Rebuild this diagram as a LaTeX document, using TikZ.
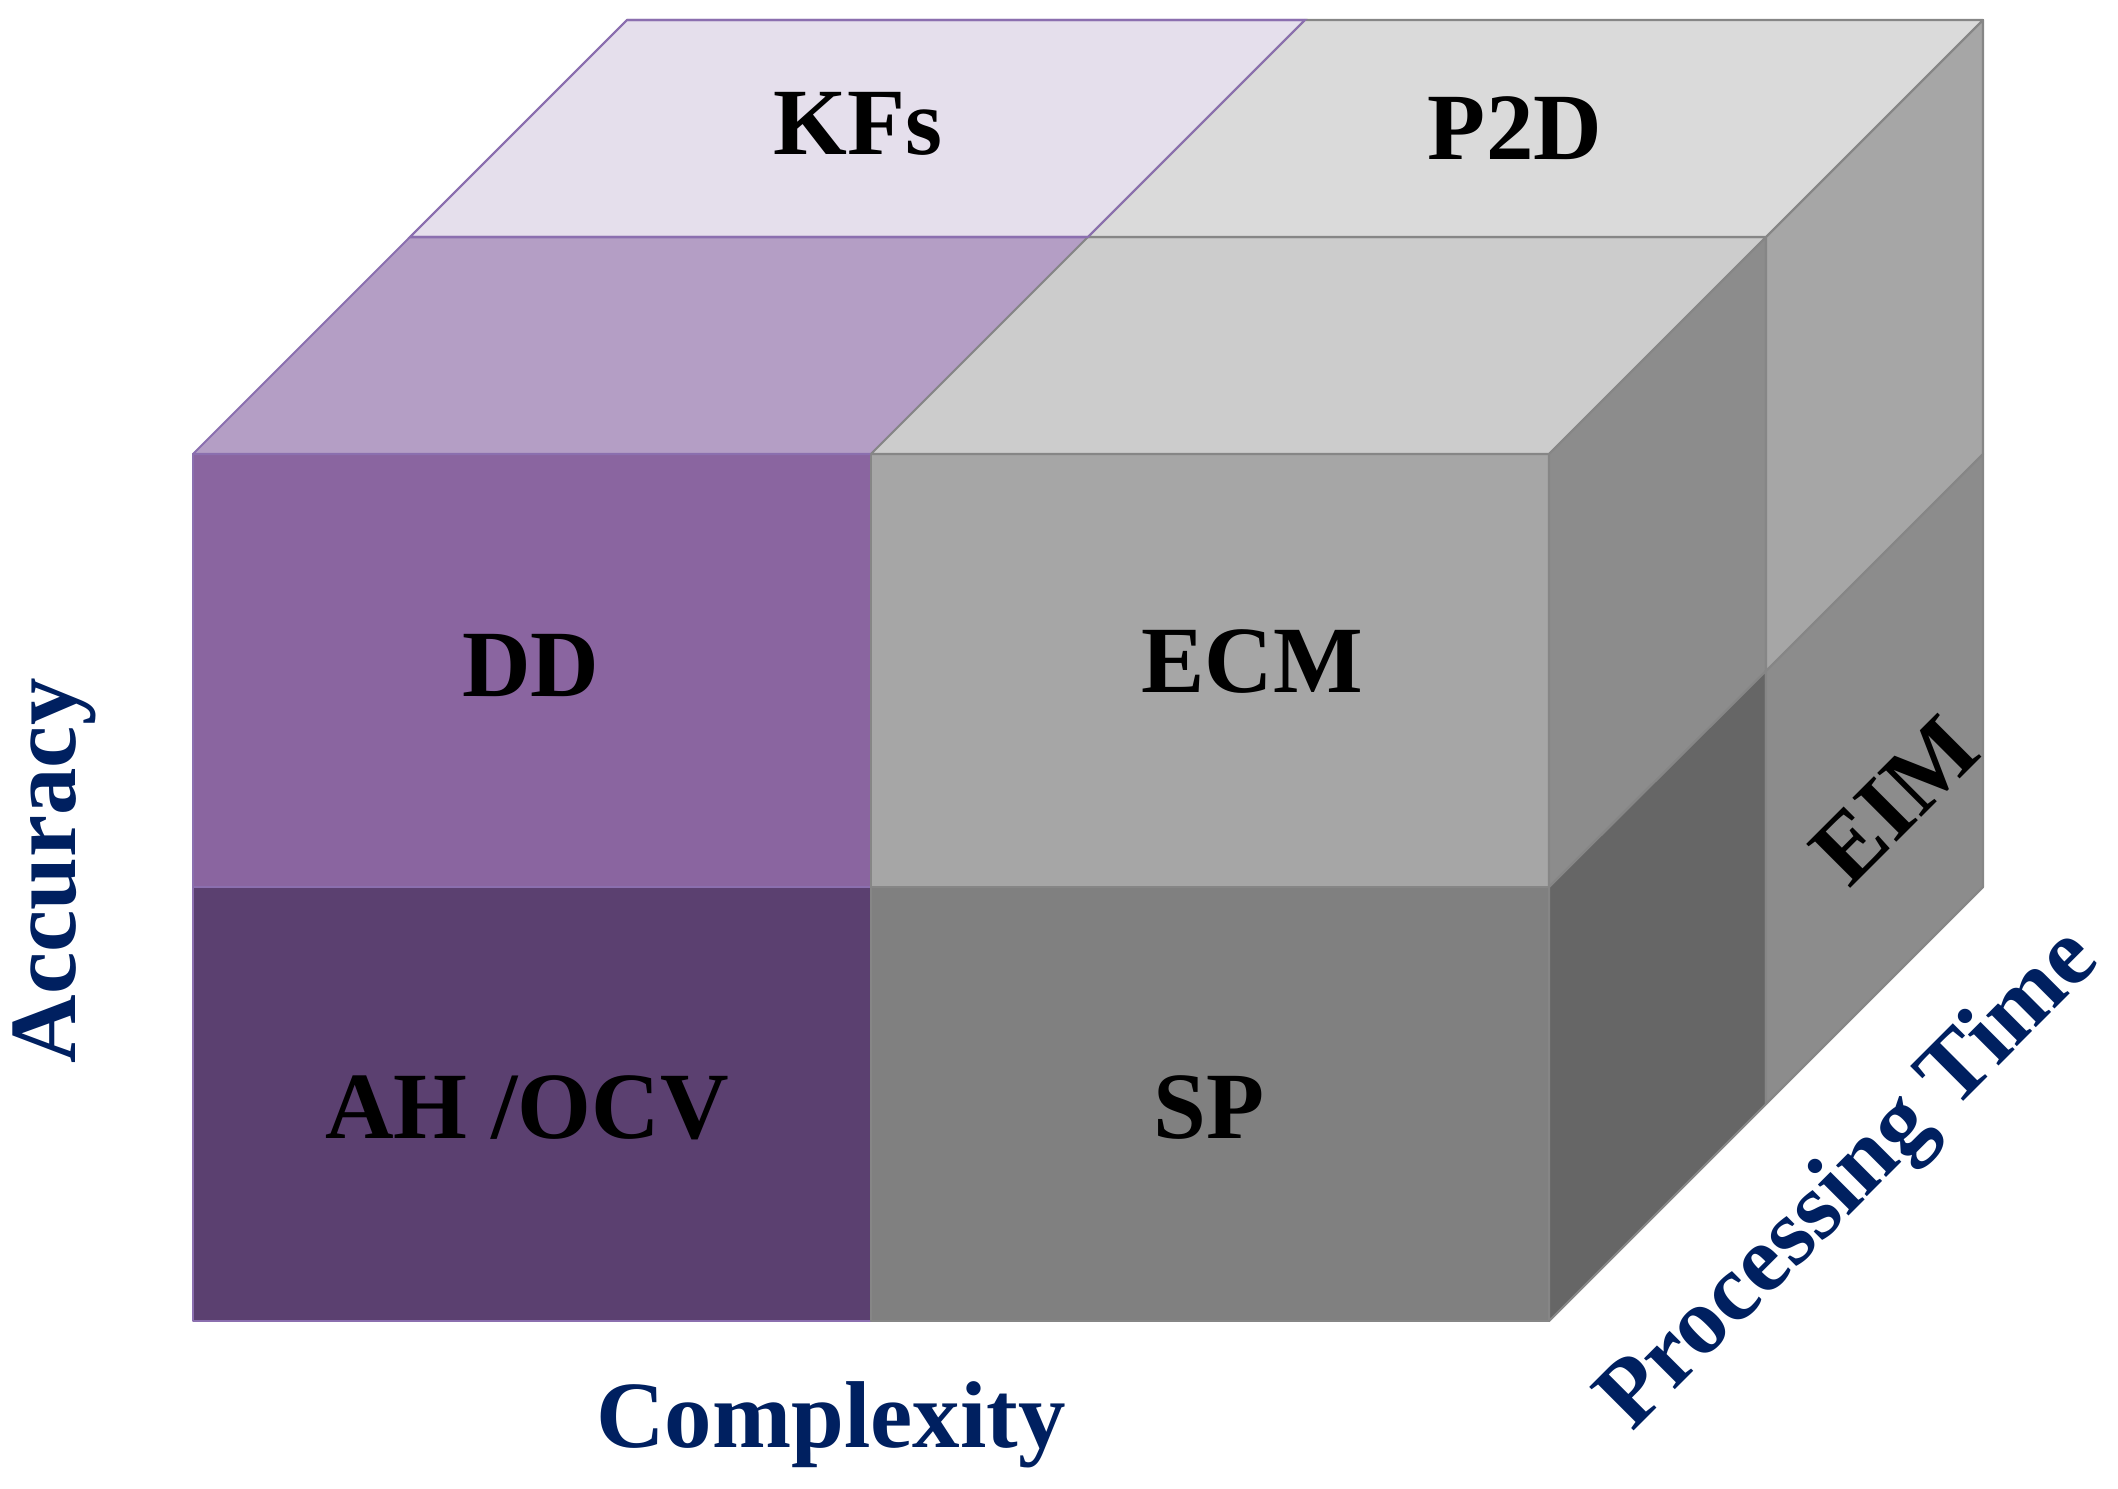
\documentclass[tikz,border=0pt]{standalone}
\usepackage{fontspec}
\setmainfont{Liberation Serif}
\definecolor{pDD}{HTML}{8A65A0}
\definecolor{pAH}{HTML}{5B4070}
\definecolor{pTopF}{HTML}{B49EC5}
\definecolor{pTopB}{HTML}{E5DFEC}
\definecolor{pEdge}{HTML}{8B6FAF}
\definecolor{gEdge}{HTML}{868686}
\definecolor{gECM}{HTML}{A6A6A6}
\definecolor{gSP}{HTML}{808080}
\definecolor{gTopF}{HTML}{CCCCCC}
\definecolor{gTopB}{HTML}{DADADA}
\definecolor{gSideA}{HTML}{8C8C8C}
\definecolor{gSideB}{HTML}{A6A6A6}
\definecolor{gSideC}{HTML}{666666}
\definecolor{navy}{HTML}{002060}
\begin{document}
\begin{tikzpicture}[x=0.01cm,y=-0.01cm,
  pface/.style={draw=pEdge,line width=0.6pt,line join=round},
  gface/.style={draw=gEdge,line width=0.6pt,line join=round},
  lbl/.style={font=\fontsize{27}{32}\selectfont\bfseries,text=black,inner sep=0pt},
  axis/.style={font=\fontsize{27}{32}\selectfont\bfseries,text=navy,inner sep=0pt}]
\useasboundingbox (0,0) rectangle (2118,1489);
% front faces
\path[pface,fill=pDD] (193,454) -- (871,454) -- (871,887) -- (193,887) -- cycle;
\path[pface,fill=pAH] (193,887) -- (871,887) -- (871,1321) -- (193,1321) -- cycle;
\path[gface,fill=gECM] (871,454) -- (1549,454) -- (1549,887) -- (871,887) -- cycle;
\path[gface,fill=gSP] (871,887) -- (1549,887) -- (1549,1321) -- (871,1321) -- cycle;
% top faces
\path[pface,fill=pTopF] (193,454) -- (871,454) -- (1088,237) -- (410,237) -- cycle;
\path[pface,fill=pTopB] (410,237) -- (1088,237) -- (1305,20) -- (627,20) -- cycle;
\path[gface,fill=gTopF] (871,454) -- (1549,454) -- (1766,237) -- (1088,237) -- cycle;
\path[gface,fill=gTopB] (1088,237) -- (1766,237) -- (1983,20) -- (1305,20) -- cycle;
\draw[pEdge,line width=0.6pt] (410,237) -- (1088,237) -- (1305,20) -- (627,20) -- cycle;
% right side faces
\path[gface,fill=gSideA] (1549,454) -- (1766,237) -- (1766,671) -- (1549,887) -- cycle;
\path[gface,fill=gSideB] (1766,237) -- (1983,20) -- (1983,454) -- (1766,671) -- cycle;
\path[gface,fill=gSideC] (1549,887) -- (1766,671) -- (1766,1104) -- (1549,1321) -- cycle;
\path[gface,fill=gSideA] (1766,671) -- (1983,454) -- (1983,887) -- (1766,1104) -- cycle;
% labels
\node[lbl] (kfs) at (858,124) {KFs};
\node[lbl] (p2d) at (1515,128) {P2D};
\node[lbl] (dd) at (531,666) {DD};
\node[lbl] (ecm) at (1252,662) {ECM};
\node[lbl] (ah) at (527,1108) {AH /OCV};
\node[lbl] (sp) at (1209,1108) {SP};
\node[lbl,rotate=45] (eim) at (1895,800) {EIM};
% axis labels
\node[axis,rotate=90] (acc) at (54,871) {Accuracy};
\node[axis] (cpx) at (831,1425) {Complexity};
\node[axis,rotate=45] (pt) at (1851,1182) {Processing Time};
\end{tikzpicture}
\end{document}
